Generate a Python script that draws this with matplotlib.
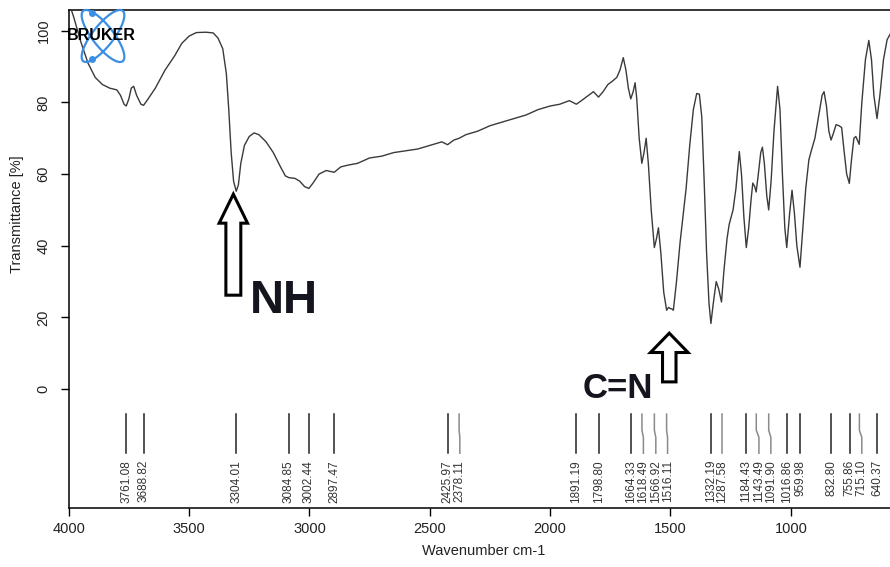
"""FT-IR spectrum (Bruker style) with annotated NH and C=N bands."""

import matplotlib
matplotlib.use("Agg")
import matplotlib.pyplot as plt
from matplotlib.patches import Ellipse, FancyArrow

plt.rcParams["font.family"] = ["Liberation Sans", "DejaVu Sans"]

# spectrum (cm-1, %T)
wavenumber = [
    4000, 3980, 3950, 3920, 3890, 3860, 3830, 3800, 3785, 3770, 3761, 3750,
    3740, 3730, 3718, 3700, 3689, 3670, 3640, 3600, 3560, 3530, 3500, 3470,
    3430, 3400, 3380, 3360, 3345, 3335, 3325, 3315, 3304, 3295, 3285, 3270,
    3250, 3230, 3210, 3180, 3150, 3120, 3100, 3085, 3060, 3040, 3020, 3002,
    2985, 2960, 2930, 2897, 2870, 2840, 2800, 2750, 2700, 2650, 2600, 2550,
    2500, 2450, 2426, 2400, 2378, 2350, 2300, 2250, 2200, 2150, 2100, 2050,
    2000, 1960, 1920, 1891, 1870, 1840, 1820, 1799, 1780, 1760, 1740, 1723,
    1710, 1696, 1685, 1675, 1665, 1655, 1647, 1640, 1630, 1619, 1610, 1601,
    1592, 1580, 1567, 1558, 1550, 1540, 1528, 1516, 1508, 1502, 1495, 1488,
    1475, 1460, 1445, 1435, 1420, 1405, 1391, 1380, 1370, 1360, 1350, 1340,
    1332, 1322, 1310, 1300, 1288, 1278, 1265, 1256, 1240, 1228, 1214, 1205,
    1195, 1185, 1175, 1165, 1158, 1150, 1144, 1135, 1125, 1118, 1110, 1100,
    1092, 1082, 1070, 1055, 1045, 1035, 1025, 1017, 1005, 995, 985, 975,
    962, 950, 938, 925, 915, 900, 885, 870, 862, 852, 842, 833,
    825, 812, 800, 789, 778, 768, 757, 748, 738, 730, 716, 705,
    690, 676, 665, 655, 642, 630, 615, 600, 588,
]
transmittance = [
    108.0, 104.0, 97.0, 91.0, 87.0, 85.0, 84.0, 83.5, 82.0, 79.5, 79.0, 81.0,
    84.0, 84.5, 82.0, 79.5, 79.2, 81.0, 84.0, 89.0, 93.0, 96.5, 98.5, 99.5,
    99.6, 99.4, 98.0, 95.0, 88.0, 78.0, 66.0, 58.0, 55.2, 57.0, 63.0, 68.0,
    70.5, 71.5, 71.0, 69.0, 66.0, 62.0, 59.5, 59.0, 58.8, 58.0, 56.5, 56.0,
    57.5, 60.0, 61.0, 60.5, 62.0, 62.5, 63.0, 64.5, 65.0, 66.0, 66.5, 67.0,
    68.0, 69.0, 68.2, 69.5, 70.0, 71.0, 72.0, 73.5, 74.5, 75.5, 76.5, 78.0,
    79.0, 79.5, 80.5, 79.5, 80.5, 82.0, 83.0, 81.5, 83.0, 85.0, 86.0, 87.0,
    89.0, 92.5, 89.0, 84.0, 81.0, 83.0, 85.5, 81.0, 70.0, 63.0, 66.0, 70.0,
    63.0, 50.0, 39.5, 42.0, 45.0, 38.0, 27.0, 22.0, 22.8, 22.5, 22.4, 22.0,
    30.0, 41.0, 50.0, 56.0, 68.0, 78.0, 82.5, 82.3, 76.0, 58.0, 38.0, 24.0,
    18.3, 24.0, 30.0, 28.0, 24.3, 33.0, 42.0, 46.0, 50.0, 56.0, 66.3, 60.0,
    48.0, 39.5, 45.0, 53.0, 57.5, 56.5, 55.0, 60.0, 66.0, 67.5, 63.0, 54.0,
    50.0, 58.0, 72.0, 84.5, 78.0, 60.0, 45.0, 39.5, 49.0, 55.5, 49.0, 40.0,
    34.0, 45.0, 56.0, 64.0, 66.5, 70.0, 76.0, 82.0, 83.0, 79.0, 72.0, 69.5,
    71.0, 73.8, 73.5, 73.0, 66.0, 60.0, 57.4, 64.0, 70.0, 70.5, 68.3, 80.0,
    92.0, 97.3, 92.0, 82.0, 75.5, 82.0, 92.0, 97.5, 99.0,
]

# picked peaks
peaks = [
    3761.08, 3688.82, 3304.01, 3084.85, 3002.44, 2897.47, 2425.97, 2378.11,
    1891.19, 1798.80, 1664.33, 1618.49, 1566.92, 1516.11, 1332.19, 1287.58,
    1184.43, 1143.49, 1091.90, 1016.86, 959.98, 832.80, 755.86, 715.10,
    640.37,
]
# leader lines that are bent to make room for the label (shift in cm-1)
bent = {2378.11: -3, 1618.49: -6, 1566.92: -6, 1516.11: -4,
        1287.58: 0, 1143.49: -11, 1091.90: -9, 715.10: -10}

fig = plt.figure(figsize=(8.9, 5.67), dpi=100)
ax = fig.add_axes([68.7 / 890, 59 / 567, 821.3 / 890, 498 / 567])

ax.plot(wavenumber, transmittance, color="#3a3a3a", lw=1.0, zorder=3)

ax.set_xlim(4000, 588)
ax.set_ylim(-33.2, 105.8)
ax.set_xticks([4000, 3500, 3000, 2500, 2000, 1500, 1000])
ax.set_yticks([0, 20, 40, 60, 80, 100])
ax.tick_params(direction="out", length=6, width=1, labelsize=10.5, pad=4,
               labelcolor="#222222")
ax.tick_params(axis="y", labelrotation=90, pad=7)
for lab in ax.get_yticklabels():
    lab.set_va("center")
ax.spines["right"].set_visible(False)
for s in ("left", "bottom", "top"):
    ax.spines[s].set_linewidth(1.1)

ax.set_xlabel("Wavenumber cm-1", fontsize=10.5, color="#222222")
ax.set_ylabel("Transmittance [%]", fontsize=10.5, color="#222222")
ax.xaxis.set_label_coords(0.505, -0.072)
ax.yaxis.set_label_coords(-0.054, 0.59)

# peak markers and labels
for p in peaks:
    if p in bent:
        q = p + bent[p]
        ax.plot([p, p, q, q], [-7.0, -11.5, -13.5, -17.9], color="#8a8a8a",
                lw=1.1, zorder=2)
    else:
        q = p
        ax.plot([p, p], [-7.0, -17.9], color="#222222", lw=1.1, zorder=2)
    ax.text(q, -19.8, f"{p:.2f}", rotation=90, ha="center", va="top",
            fontsize=8.5, color="#333333")

# hollow block arrows and band names
nh_arrow = FancyArrow(3316, 26.2, 0, 54.4 - 26.2, width=62, head_width=118,
                      head_length=8.1, length_includes_head=True,
                      facecolor="white", edgecolor="black", lw=2.2, zorder=5)
cn_arrow = FancyArrow(1505, 2.0, 0, 15.6 - 2.0, width=56, head_width=156,
                      head_length=5.4, length_includes_head=True,
                      facecolor="white", edgecolor="black", lw=2.2, zorder=5)
ax.add_patch(nh_arrow)
ax.add_patch(cn_arrow)
ax.text(3246, 21.2, "NH", fontsize=34, fontweight="bold", color="#15151f",
        ha="left", va="baseline", zorder=6)
ax.text(1866, -2.5, "C=N", fontsize=25, fontweight="bold", color="#15151f",
        ha="left", va="baseline", zorder=6)

# Bruker logo
logo = fig.add_axes([74 / 890, 1 - 66 / 567, 60 / 890, 60 / 567])
logo.set_xlim(0, 60)
logo.set_ylim(0, 60)
logo.axis("off")
blue = "#3a8ee6"
for ang in (52, -52):
    logo.add_patch(Ellipse((29, 30), 64, 21, angle=ang, fill=False,
                           edgecolor=blue, lw=1.6))
logo.plot([18, 18], [53, 7], "o", color=blue, ms=4, ls="none")
fig.text(67 / 890, 1 - 36 / 567, "BRUKER", fontsize=11.5, fontweight="heavy",
         color="black", ha="left", va="center", zorder=10)

fig.savefig("out.png", dpi=100)
